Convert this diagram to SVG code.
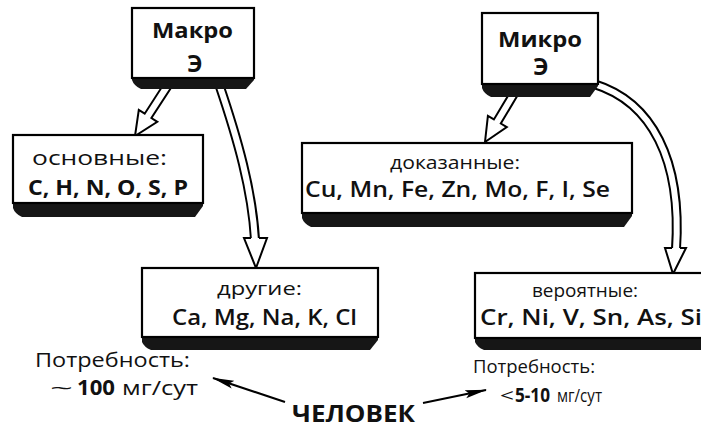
<svg xmlns="http://www.w3.org/2000/svg" width="701" height="430" viewBox="0 0 701 430">
<defs>
<style>
.face{fill:#fff;stroke:#000;stroke-width:2.2}
.band{fill:#161616}
.t{font-family:"Open Sans","DejaVu Sans",sans-serif;fill:#111}
.b{font-weight:700}
.s{font-weight:600}
.hol{fill:#fff;stroke:#000;stroke-width:2;stroke-linejoin:miter}
.shaftB{fill:none;stroke:#000;stroke-width:10}
.shaftW{fill:none;stroke:#fff;stroke-width:6}
.thin{fill:none;stroke:#000;stroke-width:2}
</style>
<marker id="ah" markerWidth="22" markerHeight="10" refX="21" refY="5" orient="auto" markerUnits="userSpaceOnUse">
<path d="M0,1 L22,5 L0,9 L4,5 Z" fill="#000"/>
</marker>
</defs>
<g id="connectors">
<polygon class="hol" points="171.4,87.2 151.4,118 157.3,121.8 135,136 138.8,109.9 144.7,113.7 164.6,82.8"/>
<polygon class="hol" points="518.4,94.1 500.8,123.5 506.8,127.1 485,142 487.9,115.8 493.9,119.4 511.6,89.9"/>
<path class="shaftB" d="M219,84 C238,140 252,190 255,239"/>
<path class="shaftW" d="M219,84 C238,140 252,190 255,240"/>
<polyline class="hol" points="251,238 244,238 256,268 267,238 259,238"/>
<path class="shaftB" d="M594,84 C652,102 682,160 676,249"/>
<path class="shaftW" d="M594,84 C652,102 682,160 676,250"/>
<polyline class="hol" points="672,248 665,248 673,274 686,248 680,248"/>
<line class="thin" x1="285" y1="402" x2="213" y2="378" marker-end="url(#ah)"/>
<line class="thin" x1="423" y1="403" x2="486" y2="390" marker-end="url(#ah)"/>
</g>
<g id="macro">
<path class="band" d="M132,76 L254,76 L254,80 L246,89 L141,89 Q134,86 132,80 Z"/>
<rect class="face" x="132" y="8" width="122" height="70"/>
<text class="t b" x="152" y="38" font-size="22" textLength="81" lengthAdjust="spacingAndGlyphs">Макро</text>
<text class="t b" x="195" y="72" font-size="23" text-anchor="middle">Э</text>
</g>
<g id="micro">
<path class="band" d="M482,82 L598,82 L598,86 L590,97 L491,97 Q484,94 482,88 Z"/>
<rect class="face" x="482" y="13" width="116" height="71"/>
<text class="t b" x="498" y="47" font-size="22" textLength="84" lengthAdjust="spacingAndGlyphs">Микро</text>
<text class="t b" x="541" y="75" font-size="23" text-anchor="middle">Э</text>
</g>
<g id="osnovnye">
<path class="band" d="M13,201 L203,201 L203,206 L195,217 L22,217 Q15,214 13,208 Z"/>
<rect class="face" x="13" y="135" width="190" height="68"/>
<text class="t" x="32" y="165" font-size="20" textLength="135" lengthAdjust="spacingAndGlyphs">основные:</text>
<text class="t b" x="28" y="195" font-size="22" textLength="160" lengthAdjust="spacingAndGlyphs">C, H, N, O, S, P</text>
</g>
<g id="dokazannye">
<path class="band" d="M302,211 L632,211 L632,216 L624,227 L311,227 Q304,224 302,218 Z"/>
<rect class="face" x="302" y="143" width="330" height="70"/>
<text class="t" x="390" y="169" font-size="19" textLength="130" lengthAdjust="spacingAndGlyphs">доказанные:</text>
<text class="t s" x="305" y="197" font-size="21" textLength="305" lengthAdjust="spacingAndGlyphs">Cu, Mn, Fe, Zn, Mo, F, I, Se</text>
</g>
<g id="drugie">
<path class="band" d="M142,335 L378,335 L378,340 L370,350 L151,350 Q144,347 142,342 Z"/>
<rect class="face" x="142" y="268" width="236" height="69"/>
<text class="t" x="217" y="295" font-size="19" textLength="85" lengthAdjust="spacingAndGlyphs">другие:</text>
<text class="t s" x="172" y="325" font-size="22" textLength="185" lengthAdjust="spacingAndGlyphs">Ca, Mg, Na, K, Cl</text>
</g>
<g id="veroyatnye">
<path class="band" d="M475,336 L720,336 L720,350 L484,350 Q477,347 475,342 Z"/>
<rect class="face" x="475" y="273" width="245" height="65"/>
<text class="t" x="532" y="297" font-size="18" textLength="106" lengthAdjust="spacingAndGlyphs">вероятные:</text>
<text class="t s" x="480" y="325" font-size="21" textLength="222" lengthAdjust="spacingAndGlyphs">Cr, Ni, V, Sn, As, Si</text>
</g>
<g id="need-macro">
<text class="t" x="35" y="367" font-size="20" textLength="155" lengthAdjust="spacingAndGlyphs">Потребность:</text>
<text class="t" y="395" font-size="20"><tspan x="50" textLength="23" lengthAdjust="spacingAndGlyphs">~</tspan><tspan x="77" font-weight="700" font-size="21" textLength="38" lengthAdjust="spacingAndGlyphs">100</tspan><tspan x="122" textLength="76" lengthAdjust="spacingAndGlyphs">мг/сут</tspan></text>
</g>
<g id="chelovek">
<text class="t b" x="292" y="422" font-size="24" textLength="123" lengthAdjust="spacingAndGlyphs">ЧЕЛОВЕК</text>
</g>
<g id="need-micro">
<text class="t" x="473" y="373" font-size="18" textLength="122" lengthAdjust="spacingAndGlyphs">Потребность:</text>
<text class="t" y="402" font-size="19"><tspan x="500" textLength="14" lengthAdjust="spacingAndGlyphs">&lt;</tspan><tspan x="515" font-weight="700" font-size="19" textLength="35" lengthAdjust="spacingAndGlyphs">5-10</tspan><tspan x="557" textLength="45" lengthAdjust="spacingAndGlyphs">мг/сут</tspan></text>
</g>
</svg>
